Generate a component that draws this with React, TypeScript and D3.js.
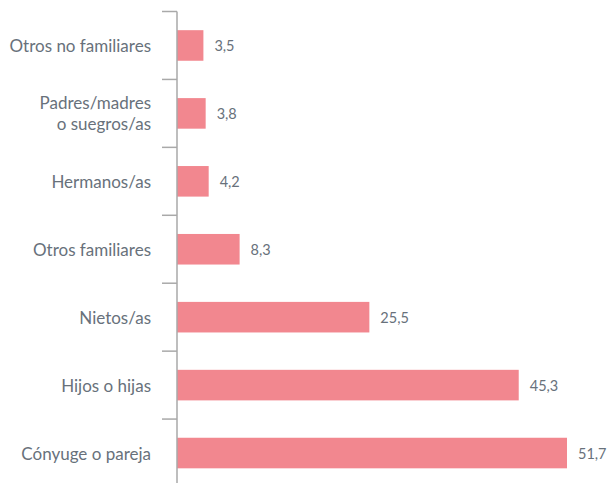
import React from "react";
import * as d3 from "d3";

const categories: string[][] = [
  ["Otros no familiares"],
  ["Padres/madres", "o suegros/as"],
  ["Hermanos/as"],
  ["Otros familiares"],
  ["Nietos/as"],
  ["Hijos o hijas"],
  ["Cónyuge o pareja"],
];
const values: number[] = [3.5, 3.8, 4.2, 8.3, 25.5, 45.3, 51.7];

const W = 608;
const H = 483;
const axisX = 177;
const barColor = "#f2878f";
const textColor = "#68717b";
const axisColor = "#a9a9a9";
const font = "Lato, 'Noto Sans', sans-serif";

export default function App() {
  const keys = categories.map((c) => c.join(" "));
  const y = d3.scaleBand<string>().domain(keys).range([11.5, 487]).paddingInner(0.55).paddingOuter(0.275);
  const yb = d3.scaleBand<string>().domain(keys).range([11.5, 487]);
  const x = d3.scaleLinear().domain([0, 51.7]).range([axisX, 567]);
  const fmt = (v: number) => v.toFixed(1).replace(".", ",");
  return (
    <svg width={W} height={H} style={{ position: "absolute", left: 0, top: 0 }}>
      <rect width={W} height={H} fill="#fff" />
      {keys.map((k, i) => (
        <g key={k}>
          <rect x={x(0)} y={y(k)} width={x(values[i]) - x(0)} height={y.bandwidth()} fill={barColor} />
          <text
            x={x(values[i]) + 11}
            y={(y(k) as number) + y.bandwidth() / 2}
            dominantBaseline="central"
            fill={textColor}
            fontFamily={font}
            fontSize={14.5}
          >
            {fmt(values[i])}
          </text>
          {categories[i].map((line, j) => (
            <text
              key={j}
              x={151}
              y={(yb(k) as number) + yb.bandwidth() / 2 + (j - (categories[i].length - 1) / 2) * 21}
              textAnchor="end"
              dominantBaseline="central"
              fill={textColor}
              fontFamily={font}
              fontSize={17}
            >
              {line}
            </text>
          ))}
        </g>
      ))}
      {[...keys.map((k) => yb(k) as number), 487].map((t, i) => (
        <line key={"t" + i} x1={162} x2={axisX} y1={t} y2={t} stroke={axisColor} strokeWidth={1.5} />
      ))}
      <line x1={axisX} x2={axisX} y1={11.5} y2={487} stroke={axisColor} strokeWidth={1.5} />
    </svg>
  );
}
